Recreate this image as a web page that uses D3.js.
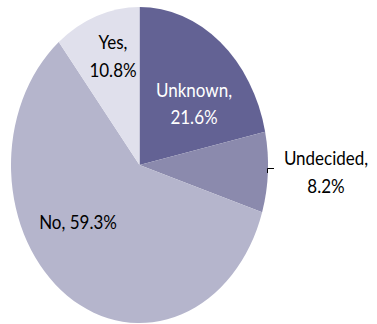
<!DOCTYPE html>
<html><head><meta charset="utf-8">
<script src="https://cdn.jsdelivr.net/npm/d3@7"></script>
<style>html,body{margin:0;padding:0;background:#fff;}svg{display:block;}</style>
</head><body>
<script>
const categories = ["Unknown", "Undecided", "No", "Yes"];
const values = [21.6, 8.2, 59.3, 10.8];
const labels = ["21.6%", "8.2%", "59.3%", "10.8%"];
const colors = ["#636294", "#8b8aad", "#b5b5cc", "#e0e0ec"];

const W = 377, H = 324;
const cx = 139.5, cy = 165, ry = 158, rx = 128.5;
const sx = rx / ry;
const tsx = 0.85;

const svg = d3.select("body").append("svg").attr("width", W).attr("height", H);

const pie = d3.pie().sort(null).value(d => d)(values);
const arc = d3.arc().innerRadius(0).outerRadius(ry);

const g = svg.append("g").attr("transform", `translate(${cx},${cy}) scale(${sx},1)`);
g.selectAll("path").data(pie).enter().append("path")
  .attr("d", arc).attr("fill", (d, i) => colors[i]);

// label layout: [center x, baseline y of first line, lines, color]
const layout = [
  {x: 194, y: 96.5, lines: [categories[0] + ",", labels[0]], fill: "#ffffff"},
  {x: 326, y: 165, lines: [categories[1] + ",", labels[1]], fill: "#000000"},
  {x: 78, y: 229, lines: [categories[2] + ", " + labels[2]], fill: "#000000"},
  {x: 113, y: 49, lines: [categories[3] + ",", labels[3]], fill: "#000000"}
];
const lh = 27.7;
layout.forEach(l => {
  const t = svg.append("text")
    .attr("transform", `translate(${l.x},${l.y}) scale(${tsx},1)`)
    .attr("text-anchor", "middle")
    .attr("font-family", "Lato, 'Open Sans', sans-serif")
    .attr("font-size", 20)
    .attr("fill", l.fill);
  l.lines.forEach((s, i) => t.append("tspan").attr("x", 0).attr("y", i * lh).text(s));
});

// leader line for Undecided
svg.append("path")
  .attr("d", "M267.5,173 L267.5,168.5 L274,168.5")
  .attr("fill", "none").attr("stroke", "#000").attr("stroke-width", 1);
</script>
</body></html>
